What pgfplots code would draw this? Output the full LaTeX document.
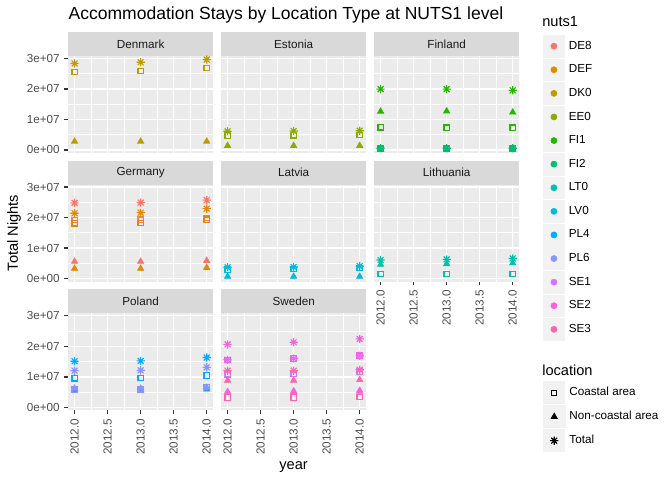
\documentclass[border=0pt]{standalone}
\usepackage{pgfplots}
\pgfplotsset{compat=1.18}
\usepackage{fontspec}
\setmainfont{Liberation Sans}
\definecolor{grey92}{HTML}{EBEBEB}
\definecolor{grey85}{HTML}{D9D9D9}
\definecolor{grey95}{HTML}{F2F2F2}
\definecolor{grey30}{HTML}{4D4D4D}
\definecolor{grey20}{HTML}{333333}
\definecolor{grey10}{HTML}{1A1A1A}
\definecolor{cDEE}{HTML}{F8766D}
\definecolor{cDEF}{HTML}{E18A00}
\definecolor{cDK}{HTML}{BE9C00}
\definecolor{cEE}{HTML}{8CAB00}
\definecolor{cFIa}{HTML}{24B700}
\definecolor{cFIb}{HTML}{00BE70}
\definecolor{cLT}{HTML}{00C1AB}
\definecolor{cLV}{HTML}{00BBDA}
\definecolor{cPLa}{HTML}{00ACFC}
\definecolor{cPLb}{HTML}{8B93FF}
\definecolor{cSEa}{HTML}{D575FE}
\definecolor{cSEb}{HTML}{F962DD}
\definecolor{cSEc}{HTML}{FF65AC}
\pgfdeclareplotmark{gstar}{%
\pgfpathmoveto{\pgfqpoint{-\pgfplotmarksize}{0pt}}\pgfpathlineto{\pgfqpoint{\pgfplotmarksize}{0pt}}%
\pgfpathmoveto{\pgfqpoint{0pt}{-\pgfplotmarksize}}\pgfpathlineto{\pgfqpoint{0pt}{\pgfplotmarksize}}%
\pgfpathmoveto{\pgfqpoint{-0.7071\pgfplotmarksize}{-0.7071\pgfplotmarksize}}\pgfpathlineto{\pgfqpoint{0.7071\pgfplotmarksize}{0.7071\pgfplotmarksize}}%
\pgfpathmoveto{\pgfqpoint{-0.7071\pgfplotmarksize}{0.7071\pgfplotmarksize}}\pgfpathlineto{\pgfqpoint{0.7071\pgfplotmarksize}{-0.7071\pgfplotmarksize}}%
\pgfusepathqstroke}
\pgfplotsset{
  panel/.style={scale only axis, width=108.975bp, height=72.75bp, anchor=south west,
    xmin=2011.9, xmax=2014.1, ymin=-1000000, ymax=30750000,
    axis background/.style={fill=grey92}, axis line style={draw=none},
    xtick={2012,2012.5,2013,2013.5,2014}, ytick={0,10000000,20000000,30000000},
    minor xtick={2012.25,2012.75,2013.25,2013.75}, minor ytick={5000000,15000000,25000000},
    grid=both, major grid style={white, line width=1.07bp}, minor grid style={white, line width=0.53bp},
    xticklabels={}, yticklabels={}, scaled ticks=false,
    tick align=outside, major tick length=2.75bp, minor tick length=0pt,
    tick style={grey20, line width=1.07bp},
    xmajorticks=false, ymajorticks=false,
    xtick pos=bottom, ytick pos=left,
    ticklabel style={font=\fontsize{8.8}{10}\selectfont, text=grey30},
    xticklabel style={rotate=90, anchor=east},
  },
  leftp/.style={ymajorticks=true, yticklabels={0e+00,1e+07,2e+07,3e+07}},
  bottomp/.style={xmajorticks=true, xticklabels={2012.0,2012.5,2013.0,2013.5,2014.0}},
  cS/.style={only marks, mark=square, mark size=2.0bp, line width=0.85bp},
  cN/.style={only marks, mark=triangle*, mark size=2.7bp, line width=0.5bp},
  cT/.style={only marks, mark=gstar, mark size=3.1bp, line width=0.85bp},
  legbase/.style={at={(0bp,0bp)}, anchor=south west, scale only axis, width=504bp, height=360bp,
    hide axis, xmin=0, xmax=1, ymin=0, ymax=1,
    legend style={anchor=north west, draw=none, fill=none, inner sep=0pt, row sep=0.9bp,
      font=\fontsize{8.8}{10}\selectfont, nodes={inner xsep=3.0bp, inner ysep=0pt}, cells={anchor=west}},
    legend image code/.code={\fill[grey95] (0bp,-8.2bp) rectangle (16bp,8.2bp); \draw[#1] plot coordinates {(8bp,0bp)};}},
}
\newcommand{\AT}[2]{at={({#1*0.75bp},{#2*0.75bp})}}
\begin{document}
\begin{tikzpicture}
\begin{scope}[x=0.75bp, y=0.75bp]
\path[use as bounding box] (0,0) rectangle (672,480);
\node[anchor=west, inner sep=0pt, font=\fontsize{13.2}{15}\selectfont] at (68.3,465) {Accommodation Stays by Location Type at NUTS1 level};
\node[rotate=90, inner sep=0pt, font=\fontsize{11}{13}\selectfont] at (14,247) {Total Nights};
\node[inner sep=0pt, font=\fontsize{11}{13}\selectfont] at (293.6,13) {year};
\node[anchor=west, inner sep=0pt, font=\fontsize{11}{13}\selectfont] at (542,458) {nuts1};
\node[anchor=west, inner sep=0pt, font=\fontsize{11}{13}\selectfont] at (542,110) {location};
\foreach \xl/\yb/\name in {68/424/Denmark, 221/424/Estonia, 374/424/Finland, 68/295.3/Germany, 221/295.3/Latvia, 374/295.3/Lithuania, 68/166.6/Poland, 221/166.6/Sweden}{
  \fill[grey85] (\xl,\yb) rectangle ({\xl+145.3},{\yb+24});
  \node[text=grey10, font=\fontsize{8.8}{10}\selectfont] at ({\xl+72.65},{\yb+12}) {\name};
}
\end{scope}
% Denmark
\begin{axis}[panel, leftp, \AT{68}{327}]
\addplot[cS, cDK] coordinates {(2012,25500000) (2013,25900000) (2014,26800000)};
\addplot[cN, cDK] coordinates {(2012,2800000) (2013,2800000) (2014,2800000)};
\addplot[cT, cDK] coordinates {(2012,28300000) (2013,28700000) (2014,29600000)};
\end{axis}
% Estonia
\begin{axis}[panel, \AT{221}{327}]
\addplot[cS, cEE] coordinates {(2012,4700000) (2013,4800000) (2014,4900000)};
\addplot[cN, cEE] coordinates {(2012,1400000) (2013,1400000) (2014,1400000)};
\addplot[cT, cEE] coordinates {(2012,6100000) (2013,6200000) (2014,6300000)};
\end{axis}
% Finland
\begin{axis}[panel, \AT{374}{327}]
\addplot[cS, cFIa] coordinates {(2012,7400000) (2013,7300000) (2014,7300000)};
\addplot[cN, cFIa] coordinates {(2012,12600000) (2013,12700000) (2014,12300000)};
\addplot[cT, cFIa] coordinates {(2012,19900000) (2013,19900000) (2014,19500000)};
\addplot[cS, cFIb] coordinates {(2012,420000) (2013,420000) (2014,420000)};
\addplot[cN, cFIb] coordinates {(2012,130000) (2013,130000) (2014,130000)};
\addplot[cT, cFIb] coordinates {(2012,550000) (2013,550000) (2014,550000)};
\end{axis}
% Germany
\begin{axis}[panel, leftp, \AT{68}{198.3}]
\addplot[cS, cDEE] coordinates {(2012,19200000) (2013,19300000) (2014,19800000)};
\addplot[cN, cDEE] coordinates {(2012,5600000) (2013,5600000) (2014,5900000)};
\addplot[cT, cDEE] coordinates {(2012,24800000) (2013,24900000) (2014,25700000)};
\addplot[cS, cDEF] coordinates {(2012,18100000) (2013,18300000) (2014,19300000)};
\addplot[cN, cDEF] coordinates {(2012,3300000) (2013,3300000) (2014,3600000)};
\addplot[cT, cDEF] coordinates {(2012,21400000) (2013,21600000) (2014,22900000)};
\end{axis}
% Latvia
\begin{axis}[panel, \AT{221}{198.3}]
\addplot[cS, cLV] coordinates {(2012,3000000) (2013,3100000) (2014,3400000)};
\addplot[cN, cLV] coordinates {(2012,700000) (2013,700000) (2014,700000)};
\addplot[cT, cLV] coordinates {(2012,3700000) (2013,3800000) (2014,4100000)};
\end{axis}
% Lithuania
\begin{axis}[panel, bottomp, \AT{374}{198.3}]
\addplot[cS, cLT] coordinates {(2012,1500000) (2013,1500000) (2014,1500000)};
\addplot[cN, cLT] coordinates {(2012,4600000) (2013,4800000) (2014,5100000)};
\addplot[cT, cLT] coordinates {(2012,6100000) (2013,6300000) (2014,6600000)};
\end{axis}
% Poland
\begin{axis}[panel, leftp, bottomp, \AT{68}{69.6}]
\addplot[cS, cPLa] coordinates {(2012,9500000) (2013,9600000) (2014,10400000)};
\addplot[cN, cPLa] coordinates {(2012,5600000) (2013,5600000) (2014,5900000)};
\addplot[cT, cPLa] coordinates {(2012,15100000) (2013,15200000) (2014,16300000)};
\addplot[cS, cPLb] coordinates {(2012,5800000) (2013,5900000) (2014,6600000)};
\addplot[cN, cPLb] coordinates {(2012,6200000) (2013,6200000) (2014,6500000)};
\addplot[cT, cPLb] coordinates {(2012,12000000) (2013,12100000) (2014,13100000)};
\end{axis}
% Sweden
\begin{axis}[panel, bottomp, \AT{221}{69.6}]
\addplot[cS, cSEa] coordinates {(2012,10800000) (2013,11000000) (2014,11700000)};
\addplot[cN, cSEa] coordinates {(2012,4800000) (2013,5000000) (2014,5200000)};
\addplot[cT, cSEa] coordinates {(2012,15600000) (2013,16000000) (2014,16900000)};
\addplot[cS, cSEb] coordinates {(2012,15500000) (2013,16000000) (2014,16900000)};
\addplot[cN, cSEb] coordinates {(2012,5100000) (2013,5300000) (2014,5500000)};
\addplot[cT, cSEb] coordinates {(2012,20600000) (2013,21300000) (2014,22400000)};
\addplot[cS, cSEc] coordinates {(2012,3200000) (2013,3200000) (2014,3400000)};
\addplot[cN, cSEc] coordinates {(2012,8800000) (2013,8800000) (2014,9000000)};
\addplot[cT, cSEc] coordinates {(2012,12000000) (2013,12000000) (2014,12300000)};
\end{axis}
% legends
\begin{axis}[legbase, legend style={at={(0.8076,0.9277)}}]
\addlegendimage{only marks, mark=*, mark size=2.3bp, cDEE}\addlegendentry{DE8}
\addlegendimage{only marks, mark=*, mark size=2.3bp, cDEF}\addlegendentry{DEF}
\addlegendimage{only marks, mark=*, mark size=2.3bp, cDK}\addlegendentry{DK0}
\addlegendimage{only marks, mark=*, mark size=2.3bp, cEE}\addlegendentry{EE0}
\addlegendimage{only marks, mark=*, mark size=2.3bp, cFIa}\addlegendentry{FI1}
\addlegendimage{only marks, mark=*, mark size=2.3bp, cFIb}\addlegendentry{FI2}
\addlegendimage{only marks, mark=*, mark size=2.3bp, cLT}\addlegendentry{LT0}
\addlegendimage{only marks, mark=*, mark size=2.3bp, cLV}\addlegendentry{LV0}
\addlegendimage{only marks, mark=*, mark size=2.3bp, cPLa}\addlegendentry{PL4}
\addlegendimage{only marks, mark=*, mark size=2.3bp, cPLb}\addlegendentry{PL6}
\addlegendimage{only marks, mark=*, mark size=2.3bp, cSEa}\addlegendentry{SE1}
\addlegendimage{only marks, mark=*, mark size=2.3bp, cSEb}\addlegendentry{SE2}
\addlegendimage{only marks, mark=*, mark size=2.3bp, cSEc}\addlegendentry{SE3}
\end{axis}
\begin{axis}[legbase, legend style={at={(0.8076,0.2063)}}]
\addlegendimage{cS, black}\addlegendentry{Coastal area}
\addlegendimage{cN, black}\addlegendentry{Non-coastal area}
\addlegendimage{cT, black}\addlegendentry{Total}
\end{axis}
\end{tikzpicture}
\end{document}
